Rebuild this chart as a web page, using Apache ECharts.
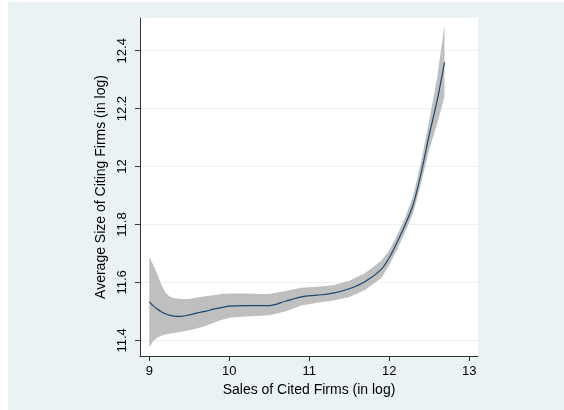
<!DOCTYPE html>
<html>
<head>
<meta charset="utf-8">
<script src="https://cdn.jsdelivr.net/npm/echarts@6/dist/echarts.min.js"></script>
<style>
html,body{margin:0;padding:0;background:#fff;}
#c{width:564px;height:410px;}
</style>
</head>
<body>
<div id="c"></div>
<script>
// Data
const xVals =    [9.0,   9.05,  9.1,   9.15,  9.2,   9.25,  9.3,   9.4,   9.5,   9.6,   9.7,   9.8,   9.9,   10.0,  10.2,  10.4,  10.5,  10.7,  10.9,  11.1,  11.3,  11.5,  11.7,  11.9,  12.0,  12.1,  12.2,  12.3,  12.4,  12.5,  12.6,  12.69];
const fitVals =  [11.533,11.519,11.508,11.499,11.492,11.487,11.484,11.483,11.488,11.495,11.500,11.508,11.513,11.518,11.520,11.520,11.520,11.535,11.550,11.556,11.563,11.578,11.603,11.645,11.685,11.740,11.800,11.870,11.980,12.110,12.230,12.360];
const lowerVals =[11.376,11.398,11.410,11.416,11.420,11.423,11.425,11.430,11.435,11.442,11.450,11.460,11.470,11.478,11.482,11.485,11.487,11.500,11.520,11.530,11.538,11.550,11.575,11.615,11.660,11.715,11.775,11.840,11.945,12.060,12.150,12.240];
const upperVals =[11.688,11.660,11.628,11.592,11.566,11.552,11.546,11.543,11.543,11.548,11.552,11.556,11.560,11.562,11.562,11.560,11.560,11.570,11.582,11.585,11.590,11.606,11.633,11.675,11.710,11.765,11.825,11.900,12.020,12.160,12.310,12.490];
const xTicks = [9, 10, 11, 12, 13];
const yTicks = [11.4, 11.6, 11.8, 12, 12.2, 12.4];
const xTitle = 'Sales of Cited Firms (in log)';
const yTitle = 'Average Size of Citing Firms (in log)';

const chart = echarts.init(document.getElementById('c'), null, {renderer: 'canvas'});
const font = 'Liberation Sans, Arial, sans-serif';
const axisColor = '#333333';

const fitData = xVals.map((x, i) => [x, fitVals[i]]);

function bandRender(params, api) {
  if (params.dataIndex !== 0) return null;
  const pts = [];
  for (let i = 0; i < xVals.length; i++) pts.push(api.coord([xVals[i], upperVals[i]]));
  for (let i = xVals.length - 1; i >= 0; i--) pts.push(api.coord([xVals[i], lowerVals[i]]));
  return {
    type: 'polygon',
    shape: {points: pts, smooth: 0},
    style: {fill: '#BFBFBF', stroke: null}
  };
}

chart.setOption({
  animation: false,
  backgroundColor: '#ffffff',
  graphic: [{
    type: 'rect', z: -10, silent: true,
    shape: {x: 8, y: 2, width: 560, height: 412},
    style: {fill: '#EAF2F3'}
  }],
  grid: {
    left: 140, right: 86, top: 18, bottom: 54,
    show: true, backgroundColor: '#ffffff', borderWidth: 0
  },
  xAxis: {
    type: 'value', min: 8.884, max: 13.109,
    name: xTitle, nameLocation: 'middle', nameGap: 25,
    nameTextStyle: {fontFamily: font, fontSize: 14, color: '#000'},
    axisLine: {show: true, onZero: false, lineStyle: {color: axisColor, width: 1}},
    axisTick: {show: true, length: 5, customValues: xTicks, lineStyle: {color: axisColor}},
    axisLabel: {customValues: xTicks, fontFamily: font, fontSize: 13, color: '#000', margin: 9,
      formatter: v => String(v)},
    splitLine: {show: false}
  },
  yAxis: {
    type: 'value', min: 11.346, max: 12.513,
    name: yTitle, nameLocation: 'middle', nameGap: 27, nameRotate: 90,
    nameTextStyle: {fontFamily: font, fontSize: 14, color: '#000'},
    axisLine: {show: true, onZero: false, lineStyle: {color: axisColor, width: 1}},
    axisTick: {show: true, length: 5, customValues: yTicks, lineStyle: {color: axisColor}},
    axisLabel: {customValues: yTicks, rotate: 90, fontFamily: font, fontSize: 13, color: '#000', margin: 11,
      formatter: v => String(Math.round(v * 10) / 10)},
    splitLine: {show: true, lineStyle: {color: '#EAF2F3', width: 1}}
  },
  series: [
    {
      type: 'custom', name: 'ci', renderItem: bandRender,
      data: [[xVals[0], lowerVals[0]]], encode: {x: 0, y: 1},
      silent: true, clip: true, z: 2
    },
    {
      type: 'line', name: 'fit', data: fitData,
      symbol: 'none', smooth: 0.3, lineStyle: {color: '#1A476F', width: 1.2}, z: 3
    }
  ]
});
</script>
</body>
</html>
